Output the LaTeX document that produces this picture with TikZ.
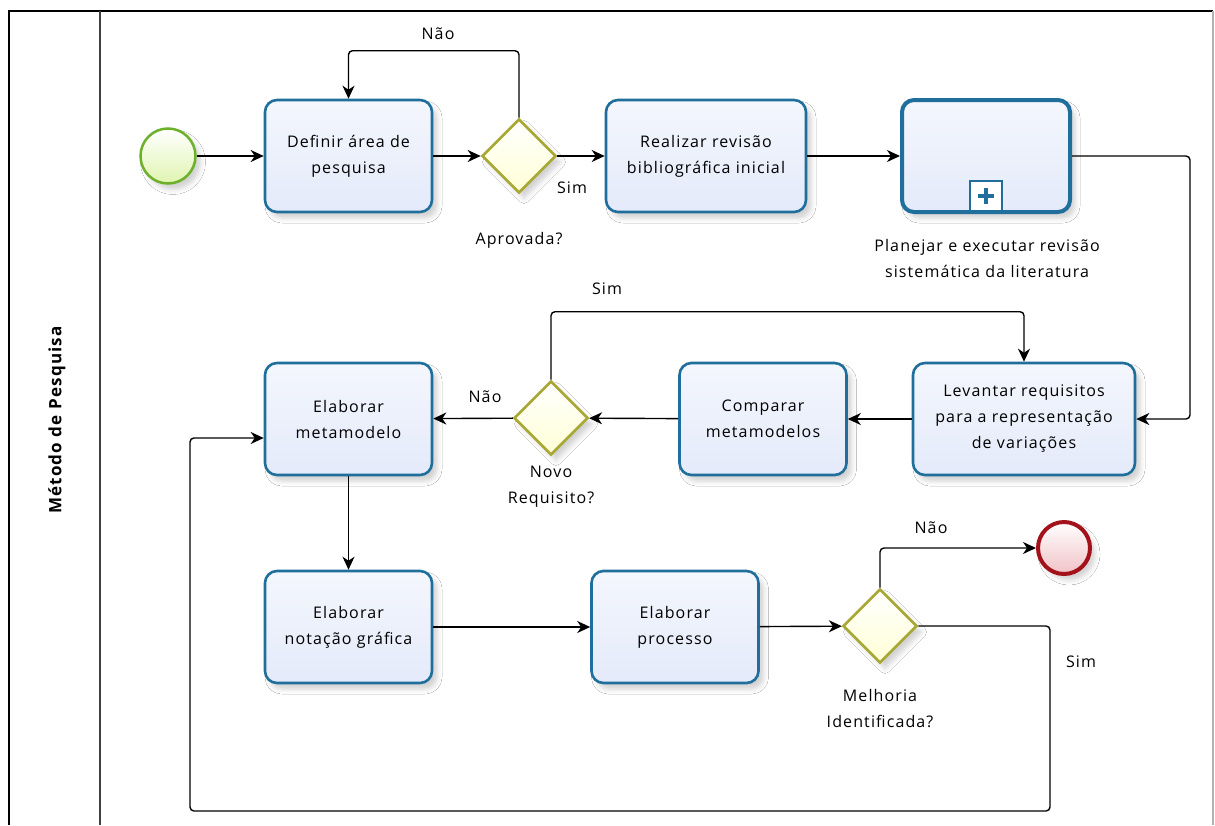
\documentclass[tikz,border=0pt]{standalone}
\usepackage{fontspec}
\setmainfont{Open Sans}[LetterSpace=7]
\usetikzlibrary{shapes.geometric,arrows.meta,calc,shadows.blur}

\definecolor{taskline}{HTML}{1F6E9C}
\definecolor{taskfill}{HTML}{E4EAFA}
\definecolor{startline}{HTML}{6DB02A}
\definecolor{startfill}{HTML}{E0F4B0}
\definecolor{endline}{HTML}{A3121A}
\definecolor{endfill}{HTML}{F0C2C6}
\definecolor{gateline}{HTML}{A8A835}
\definecolor{gatefill}{HTML}{FFFFD6}

\tikzset{
  txt/.style={font=\fontsize{16}{26}\selectfont, align=center},
  softshadow/.style={blur shadow={shadow xshift=5pt, shadow yshift=-6pt,
      shadow blur radius=5pt, shadow opacity=18}},
  task/.style={txt, draw=taskline, line width=2.6pt, rounded corners=12pt,
      minimum width=167pt, minimum height=112pt, inner sep=2pt,
      top color=white!60!taskfill, bottom color=taskfill, softshadow},
  subproc/.style={task, line width=4pt, minimum width=168pt},
  gate/.style={diamond, draw=gateline, line width=2.6pt, minimum size=74pt,
      inner sep=0pt, top color=white, bottom color=gatefill, softshadow},
  startev/.style={circle, draw=startline, line width=2.5pt, minimum size=55pt,
      inner sep=0pt, top color=white, bottom color=startfill, softshadow},
  endev/.style={circle, draw=endline, line width=4pt, minimum size=52pt,
      inner sep=0pt, top color=white, bottom color=endfill, softshadow},
  lbl/.style={txt, inner sep=0pt},
  flow/.style={draw=black, line width=1.4pt, rounded corners=4pt,
      -{Stealth[length=13pt, width=12pt, inset=4pt]}},
}

\begin{document}
\begin{tikzpicture}[x=1pt, y=-1pt]
  \useasboundingbox (0,0) rectangle (1215,825);
  \fill[white] (0,0) rectangle (1215,825);

  % pool and lane
  \draw[line width=1.6pt] (9,825) -- (9,11) -- (1213,11);
  \draw[line width=1.2pt, black!30] (1213,11) -- (1213,825);
  \draw[line width=1.6pt, black!75] (100,11) -- (100,825);
  \node[rotate=90, font=\bfseries\fontsize{17}{20}\selectfont] (lane) at (57,420) {Método de Pesquisa};

  % first row
  \node[startev] (start) at (168,156) {};
  \node[task] (t1) at (348.5,156) {Definir área de\\pesquisa};
  \node[gate] (g1) at (519,156) {};
  \node[task, minimum width=200pt] (t2) at (706,156) {Realizar revisão\\bibliográfica inicial};
  \node[subproc] (sp) at (986,156) {};
  \node[draw=taskline, line width=2pt, fill=white, minimum width=32pt, minimum height=30pt,
        inner sep=0pt, anchor=south] (spm) at ($(sp.south)+(0,-2)$) {};
  \fill[taskline] ($(spm.center)+(-8,-2.2)$) rectangle ($(spm.center)+(8,2.2)$);
  \fill[taskline] ($(spm.center)+(-2.2,-8)$) rectangle ($(spm.center)+(2.2,8)$);

  \node[lbl] (l1) at (519,240) {Aprovada?};
  \node[lbl] (l2) at (572,188) {Sim};
  \node[lbl] (l3) at (438,34) {Não};
  \node[lbl] (l4) at (987,258) {Planejar e executar revisão\\sistemática da literatura};

  % second row
  \node[task, minimum width=222pt] (lev) at (1024,419) {Levantar requisitos\\para a representação\\de variações};
  \node[task] (cmp) at (763,419) {Comparar\\metamodelos};
  \node[gate] (g2) at (551,418) {};
  \node[task] (meta) at (348.5,419) {Elaborar\\metamodelo};

  \node[lbl] (l5) at (551,487) {Novo\\Requisito?};
  \node[lbl] (l6) at (485,397) {Não};
  \node[lbl] (l7) at (607,289) {Sim};

  % third row
  \node[task] (not) at (348.5,627) {Elaborar\\notação gráfica};
  \node[task] (proc) at (675,627) {Elaborar\\processo};
  \node[gate] (g3) at (880,626) {};
  \node[endev] (end) at (1064,548) {};

  \node[lbl] (l8) at (880,709) {Melhoria\\Identificada?};
  \node[lbl] (l9) at (931,528) {Não};
  \node[lbl] (l10) at (1081,662) {Sim};

  % sequence flows
  \draw[flow] (start) -- (t1);
  \draw[flow] (t1) -- (g1);
  \draw[flow] (g1.north) -- ++(0,-67) -| (t1.north);
  \draw[flow] (g1) -- (t2);
  \draw[flow] (t2) -- (sp);
  \draw[flow] (sp.east) -- ++(118,0) |- (lev.east);
  \draw[flow] (lev) -- (cmp);
  \draw[flow] (cmp) -- (g2);
  \draw[flow] (g2) -- (meta);
  \draw[flow] (g2.north) -- ++(0,-68) -| (lev.north);
  \draw[flow] (meta) -- (not);
  \draw[flow] (not) -- (proc);
  \draw[flow] (proc) -- (g3);
  \draw[flow] (g3.north) |- (end.west);
  \coordinate (loopR) at (1050,811);
  \coordinate (loopL) at (190,811);
  \draw[flow] (g3.east) -| (loopR) -- (loopL) |- ($(meta.west)+(0,19)$);
\end{tikzpicture}
\end{document}
